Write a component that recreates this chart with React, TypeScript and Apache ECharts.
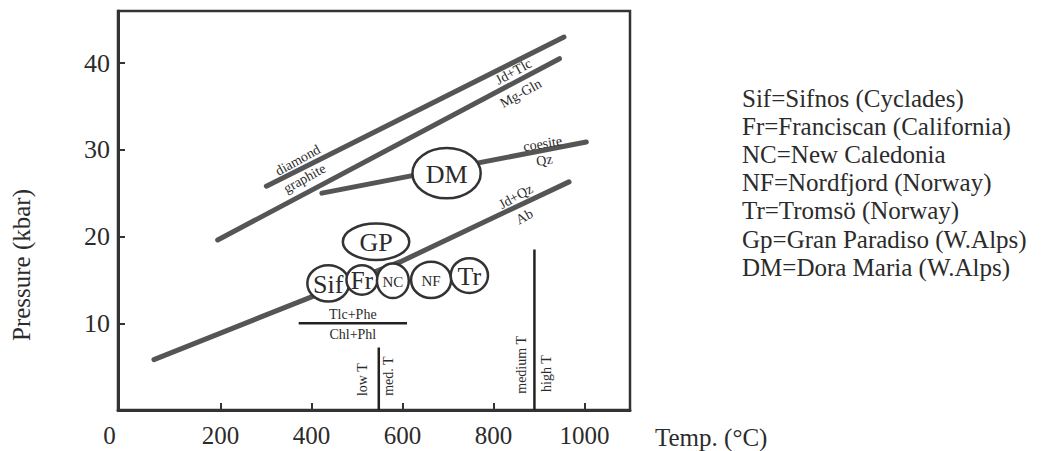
import React, { useEffect, useRef } from 'react';
import * as echarts from 'echarts';

// ---- axis ticks / labels ----
const xTickValues = [200, 400, 600, 800, 1000];
const xLabelValues = [0, 200, 400, 600, 800, 1000];
const yTickValues = [10, 20, 30, 40];

// ---- reaction curves [T (°C), P (kbar)] ----
const diamondGraphite = [[301, 25.8], [955, 43.0]];
const jdTlcMgGln = [[194, 19.6], [945, 40.5]];
const coesiteQz = [[423, 25.0], [1004, 30.9]];
const jdQzAb = [[54, 5.8], [288, 10.7], [596, 17.1], [966, 26.3]];
const tlcPheChlPhl = [[372, 10], [610, 10]];
const lowMedT = [[548, 0], [548, 7.2]];
const medHighT = [[890, 0], [890, 18.5]];

// ---- localities: centre T, centre P, half range T, half range P ----
const localityNames = ['DM', 'GP', 'Sif', 'Fr', 'NC', 'NF', 'Tr'];
const localityT = [697, 542, 437, 511, 579, 663, 747];
const localityP = [27.3, 19.4, 14.6, 15.0, 14.9, 15.0, 15.5];
const localityDT = [75, 73, 46, 34, 35, 44, 41];
const localityDP = [2.9, 2.1, 2.1, 1.7, 2.0, 2.1, 2.0];
const localityFont = [26, 26, 26, 25, 15, 15, 26];

// ---- reaction labels ----
const reactionLabels = ['diamond', 'graphite', 'Jd+Tlc', 'Mg-Gln', 'coesite', 'Qz', 'Jd+Qz', 'Ab', 'Tlc+Phe', 'Chl+Phl', 'low T', 'med. T', 'medium T', 'high T'];
const reactionLabelT = [370, 385, 844, 860, 908, 912, 849, 868, 491, 491, 513, 570, 861, 916];
const reactionLabelP = [28.8, 26.7, 39.0, 36.5, 30.7, 28.8, 24.6, 22.3, 11.0, 8.7, 3.5, 3.9, 5.2, 4.2];
const reactionLabelAngle = [29, 29, 29, 29, 9, 9, 29, 29, 0, 0, 90, 90, 90, 90];

const legendLines = [
  'Sif=Sifnos (Cyclades)',
  'Fr=Franciscan (California)',
  'NC=New Caledonia',
  'NF=Nordfjord (Norway)',
  'Tr=Tromsö (Norway)',
  'Gp=Gran Paradiso (W.Alps)',
  'DM=Dora Maria (W.Alps)',
];

const SERIF = 'Liberation Serif';
const INK = '#2b2b2b';
const LINE = '#555555';

export default function App() {
  const ref = useRef<HTMLDivElement>(null);
  useEffect(() => {
    if (!ref.current) return;
    const chart = echarts.init(ref.current, undefined, { renderer: 'svg' });

    const thick = (data: number[][]) => ({
      type: 'line',
      data,
      showSymbol: false,
      symbol: 'none',
      z: 2,
      lineStyle: { width: 5, color: LINE, cap: 'round' },
      silent: true,
    });
    const thin = (data: number[][]) => ({
      type: 'line',
      data,
      showSymbol: false,
      symbol: 'none',
      z: 2,
      lineStyle: { width: 2.5, color: '#222' },
      silent: true,
    });

    const option: any = {
      animation: false,
      backgroundColor: '#ffffff',
      grid: {
        left: 118, right: 431, top: 11, bottom: 41,
        show: true, borderColor: '#333', borderWidth: 2.5, backgroundColor: 'transparent',
      },
      xAxis: {
        type: 'value', min: -25, max: 1100,
        splitLine: { show: false },
        axisLine: { show: true, onZero: false, lineStyle: { color: '#333', width: 3 } },
        axisTick: { show: true, inside: true, length: 7, lineStyle: { color: '#333', width: 2 }, customValues: xTickValues },
        axisLabel: {
          customValues: xLabelValues,
          fontFamily: SERIF, fontSize: 25, color: INK, margin: 13,
          formatter: (v: number) => (v === 0 ? '{o|0}' : String(v)),
          rich: { o: { padding: [0, 40, 0, 0], fontFamily: SERIF, fontSize: 25, color: INK } },
        },
      },
      yAxis: {
        type: 'value', min: 0, max: 46,
        splitLine: { show: false },
        axisLine: { show: true, onZero: false, lineStyle: { color: '#333', width: 3 } },
        axisTick: { show: true, inside: true, length: 7, lineStyle: { color: '#333', width: 2 }, customValues: yTickValues },
        axisLabel: { customValues: yTickValues, fontFamily: SERIF, fontSize: 26, color: INK, margin: 8 },
      },
      series: [
        thick(diamondGraphite),
        thick(jdTlcMgGln),
        thick(coesiteQz),
        thick(jdQzAb),
        thin(tlcPheChlPhl),
        thin(lowMedT),
        thin(medHighT),
        {
          type: 'custom',
          z: 3,
          clip: false,
          data: localityT.map((t, i) => [t, localityP[i], localityDT[i], localityDP[i]]),
          renderItem: (params: any, api: any) => {
            const i = params.dataIndex;
            const c = api.coord([api.value(0), api.value(1)]);
            const s = api.size([api.value(2), api.value(3)]);
            return {
              type: 'group',
              children: [
                { type: 'ellipse', shape: { cx: c[0], cy: c[1], rx: s[0], ry: s[1] }, style: { fill: '#fff', stroke: '#333', lineWidth: 2.5 } },
                {
                  type: 'text', x: c[0], y: c[1] + 1,
                  style: { text: localityNames[i], fontFamily: SERIF, fontSize: localityFont[i], fill: INK, align: 'center', verticalAlign: 'middle' },
                },
              ],
            };
          },
        },
        {
          type: 'custom',
          z: 4,
          clip: false,
          data: reactionLabelT.map((t, i) => [t, reactionLabelP[i]]),
          renderItem: (params: any, api: any) => {
            const i = params.dataIndex;
            const c = api.coord([api.value(0), api.value(1)]);
            return {
              type: 'text', x: c[0], y: c[1], rotation: (reactionLabelAngle[i] * Math.PI) / 180,
              style: { text: reactionLabels[i], fontFamily: SERIF, fontSize: 14, fill: INK, align: 'center', verticalAlign: 'middle' },
            };
          },
        },
      ],
      graphic: [
        {
          type: 'text', x: 21, y: 265, rotation: Math.PI / 2,
          style: { text: 'Pressure (kbar)', fontFamily: SERIF, fontSize: 25, fill: INK, align: 'center', verticalAlign: 'middle' },
        },
        {
          type: 'text', x: 655, y: 437,
          style: { text: 'Temp. (°C)', fontFamily: SERIF, fontSize: 25, fill: INK, align: 'left', verticalAlign: 'middle' },
        },
        {
          type: 'text', x: 742, y: 84,
          style: { text: legendLines.join('\n'), fontFamily: SERIF, fontSize: 25, lineHeight: 28.2, fill: INK, align: 'left', verticalAlign: 'top' },
        },
      ],
    };
    chart.setOption(option);
    return () => chart.dispose();
  }, []);
  return <div ref={ref} style={{ position: 'fixed', left: 0, top: 0, width: 1061, height: 451, background: '#fff' }} />;
}
